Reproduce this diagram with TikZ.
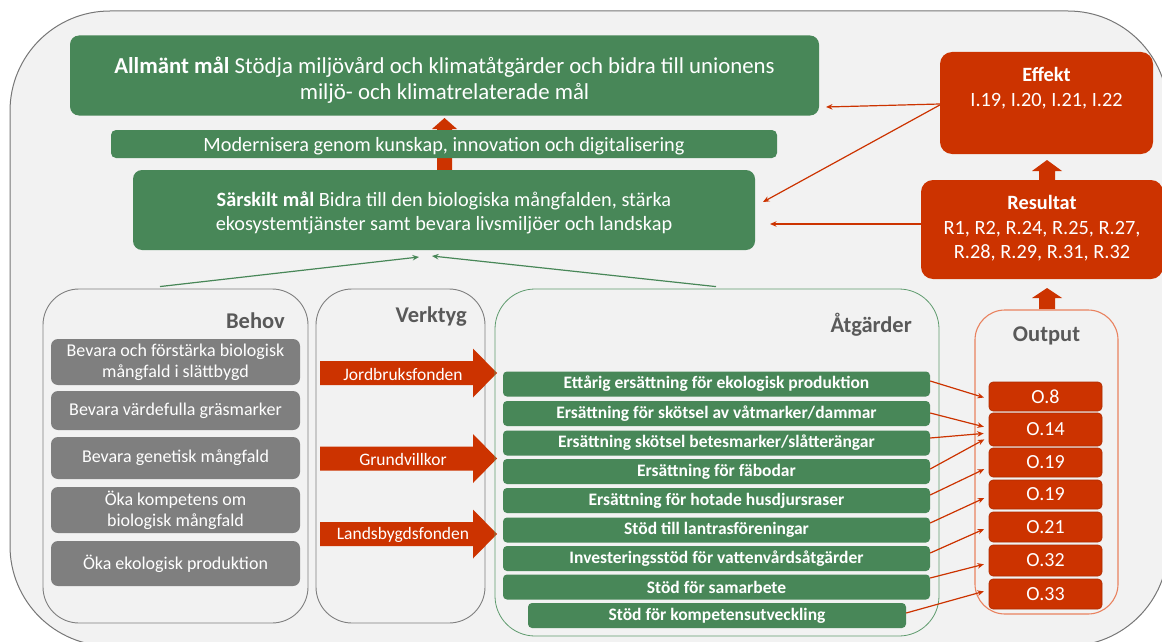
\documentclass[tikz,border=0pt]{standalone}
\usepackage{fontspec}
\setmainfont{Carlito}
\usetikzlibrary{arrows.meta,calc}
\definecolor{agreen}{RGB}{72,135,88}
\definecolor{ared}{RGB}{204,51,0}
\definecolor{agray}{RGB}{127,127,127}
\definecolor{bgc}{RGB}{242,242,242}
\definecolor{ttl}{RGB}{89,89,89}
\definecolor{outerc}{RGB}{118,118,118}
\definecolor{outc}{RGB}{233,130,95}
\definecolor{gline}{RGB}{95,155,110}
\begin{document}
\begin{tikzpicture}[x=1pt,y=-1pt,
  gbox/.style={fill=agreen, rounded corners=9pt, inner sep=0pt, text=white, align=center},
  wtxt/.style={text=white, align=center, inner sep=0pt},
  rbox/.style={fill=ared, rounded corners=12pt, inner sep=0pt, text=white, align=center},
  need/.style={fill=agray, rounded corners=7pt, inner sep=0pt, text=white, align=center, minimum width=249pt, font=\fontsize{18}{21}\selectfont},
  meas/.style={fill=agreen, rounded corners=4pt, inner sep=0pt, text=white, minimum width=427pt, minimum height=25pt, font=\bfseries\fontsize{17.5}{20}\selectfont},
  obox/.style={fill=ared, draw=ared!85!black, line width=0.6pt, rounded corners=4pt, inner sep=0pt, text=white, minimum width=113pt, font=\fontsize{20}{22}\selectfont},
  cont/.style={rounded corners=36pt, line width=0.9pt, inner sep=0pt},
  ttlt/.style={text=ttl, font=\bfseries\fontsize{22.5}{26}\selectfont, inner sep=0pt},
  rcon/.style={draw=ared, line width=1.2pt, -{Stealth[length=6.5pt,width=5.5pt]}},
  gcon/.style={draw=agreen, line width=1.2pt, -{Stealth[length=6.5pt,width=5.5pt]}},
  fundtxt/.style={text=white, font=\fontsize{17.5}{20}\selectfont, inner sep=0pt}
]
\useasboundingbox (0,0) rectangle (1162,642);
\begin{scope}
\clip (0,0) rectangle (1162,642);
\draw[fill=bgc, draw=outerc, line width=1pt, rounded corners=100pt] (10,11) rectangle (1168,646);
\end{scope}

% red up arrow behind Modernisera
\fill[ared] (437,170) -- (437,129) -- (432,129) -- (444.5,118) -- (457,129) -- (452,129) -- (452,170) -- cycle;

\node[gbox, minimum width=749pt, minimum height=80pt] (allm) at (444.5,75.5) {};
\node[wtxt, font=\fontsize{22.8}{26}\selectfont] (allmt) at (444.5,80)
  {\textbf{Allmänt mål} Stödja miljövård och klimatåtgärder och bidra till unionens\\miljö- och klimatrelaterade mål};
\node[gbox, rounded corners=5pt, minimum width=666pt, minimum height=28pt] (modern) at (444,144) {};
\node[wtxt, font=\fontsize{20.3}{22}\selectfont] (moderntxt) at (444,146)
  {Modernisera genom kunskap, innovation och digitalisering};
\node[gbox, minimum width=622pt, minimum height=80pt] (sars) at (444,210) {};
\node[wtxt, font=\fontsize{20.3}{24}\selectfont] (sarst) at (444,212.5)
  {\textbf{Särskilt mål} Bidra till den biologiska mångfalden, stärka\\ekosystemtjänster samt bevara livsmiljöer och landskap};

% Effekt / Resultat
\node[rbox, minimum width=213pt, minimum height=102pt] (effekt) at (1046.5,103) {};
\node[wtxt, font=\fontsize{20.3}{25}\selectfont] (effekttxt) at (1046.5,88) {\textbf{Effekt}\\I.19, I.20, I.21, I.22};
\node[rbox, minimum width=242pt, minimum height=99pt] (result) at (1042,229.5) {};
\node[wtxt, font=\fontsize{20.3}{24.5}\selectfont] (resulttxt) at (1042,228.5)
  {\textbf{Resultat}\\R1, R2, R.24, R.25, R.27,\\R.28, R.29, R.31, R.32};
\fill[ared] (1039,180) -- (1039,171) -- (1032,171) -- (1047,160) -- (1062,171) -- (1055,171) -- (1055,180) -- cycle;
\fill[ared] (1039,309) -- (1039,298) -- (1032,298) -- (1047,288) -- (1062,298) -- (1055,298) -- (1055,309) -- cycle;

\coordinate (t1) at (826,107);
\coordinate (t2) at (763,202);
\coordinate (t3) at (770,224);
\draw[rcon] ($(effekt.west)+(0,1)$) -- (t1);
\draw[rcon] ($(effekt.west)+(0,2)$) -- (t2);
\draw[rcon] ($(result.west)+(0,-5.5)$) -- (t3);

% Behov
\node[cont, draw=agray, minimum width=265pt, minimum height=334pt] (behov) at (175.5,456) {};
\node[ttlt, anchor=east] (behovt) at (285,321) {Behov};
\node[need, minimum height=46pt] (n1) at (175.5,362) {Bevara och förstärka biologisk\\mångfald i slättbygd};
\node[need, minimum height=39pt] (n2) at (175.5,410.5) {Bevara värdefulla gräsmarker};
\node[need, minimum height=42pt] (n3) at (175.5,458) {Bevara genetisk mångfald};
\node[need, minimum height=46pt] (n4) at (175.5,510) {Öka kompetens om\\biologisk mångfald};
\node[need, minimum height=45pt] (n5) at (175.5,563.5) {Öka ekologisk produktion};

% Verktyg
\node[cont, draw=agray, minimum width=169pt, minimum height=334pt] (verk) at (400.5,456) {};
\node[ttlt, anchor=east] (verkt) at (467,317) {Verktyg};
\foreach \yy in {373,458.5,534}{
  \fill[ared] (320,\yy-12) -- (473,\yy-12) -- (473,\yy-24.5) -- (497,\yy) -- (473,\yy+24.5) -- (473,\yy+12) -- (320,\yy+12) -- cycle;
}
\node[fundtxt] (f1) at (403,374) {Jordbruksfonden};
\node[fundtxt] (f2) at (403,459.5) {Grundvillkor};
\node[fundtxt] (f3) at (403,535) {Landsbygdsfonden};

% Atgarder
\node[cont, rounded corners=40pt, draw=gline, line width=0.8pt, minimum width=444pt, minimum height=347pt] (atg) at (717,462.5) {};
\node[ttlt, anchor=east] (atgt) at (912,325) {Åtgärder};
\node[meas] (a1) at (716.5,384) {Ettårig ersättning för ekologisk produktion};
\node[meas] (a2) at (716.5,413.5) {Ersättning för skötsel av våtmarker/dammar};
\node[meas] (a3) at (716.5,443) {Ersättning skötsel betesmarker/slåtterängar};
\node[meas] (a4) at (716.5,471.5) {Ersättning för fäbodar};
\node[meas] (a5) at (716.5,500.5) {Ersättning för hotade husdjursraser};
\node[meas] (a6) at (716.5,530) {Stöd till lantrasföreningar};
\node[meas] (a7) at (716.5,558.5) {Investeringsstöd för vattenvårdsåtgärder};
\node[meas] (a8) at (716.5,587) {Stöd för samarbete};
\node[meas, minimum width=378pt] (a9) at (717,615.5) {Stöd för kompetensutveckling};

% Output
\node[cont, rounded corners=30pt, draw=outc, line width=1.1pt, minimum width=143pt, minimum height=304pt] (outp) at (1046.5,462) {};
\node[ttlt, anchor=center] (outpt) at (1046.5,336) {Output};
\node[obox, minimum height=29pt] (o1) at (1045.5,396.5) {O.8};
\node[obox, minimum height=33pt] (o2) at (1045.5,429.5) {O.14};
\node[obox, minimum height=29pt] (o3) at (1045.5,462.5) {O.19};
\node[obox, minimum height=29pt] (o4) at (1045.5,494.5) {O.19};
\node[obox, minimum height=30pt] (o5) at (1045.5,527) {O.21};
\node[obox, minimum height=31pt] (o6) at (1045.5,560.5) {O.32};
\node[obox, minimum height=30pt] (o7) at (1045.5,594) {O.33};

% green arrows to Sarskilt mal
\coordinate (g1) at (419,257);
\coordinate (g2) at (432,256);
\draw[gcon] ($(behov.north)+(-15.5,-2)$) -- (g1);
\draw[gcon] ($(atg.north)+(-1,-2)$) -- (g2);

% measures to outputs
\draw[rcon, shorten >=5pt] ($(a1.east)+(0,-3)$) -- ($(o1.west)+(0,2.5)$);
\draw[rcon, shorten >=5pt] ($(a2.east)+(0,-0.5)$) -- ($(o2.west)+(0,-1.5)$);
\draw[rcon, shorten >=5pt] ($(a3.east)+(0,-5)$) -- ($(o2.west)+(0,3.5)$);
\draw[rcon, shorten >=5pt] ($(a4.east)+(0,-2.5)$) -- ($(o2.west)+(0,7.5)$);
\draw[rcon, shorten >=5pt] ($(a5.east)+(0,-5.5)$) -- ($(o3.west)+(0,4.5)$);
\draw[rcon, shorten >=5pt] ($(a6.east)+(0,-7)$) -- ($(o4.west)+(0,1.5)$);
\draw[rcon, shorten >=5pt] ($(a7.east)+(0,-5.5)$) -- ($(o5.west)+(0,0)$);
\draw[rcon, shorten >=5pt] ($(a8.east)+(0,-9)$) -- ($(o6.west)+(0,2.5)$);
\draw[rcon, shorten >=5pt] ($(a9.east)+(0,-2.5)$) -- ($(o7.west)+(0,-4)$);
\end{tikzpicture}
\end{document}
